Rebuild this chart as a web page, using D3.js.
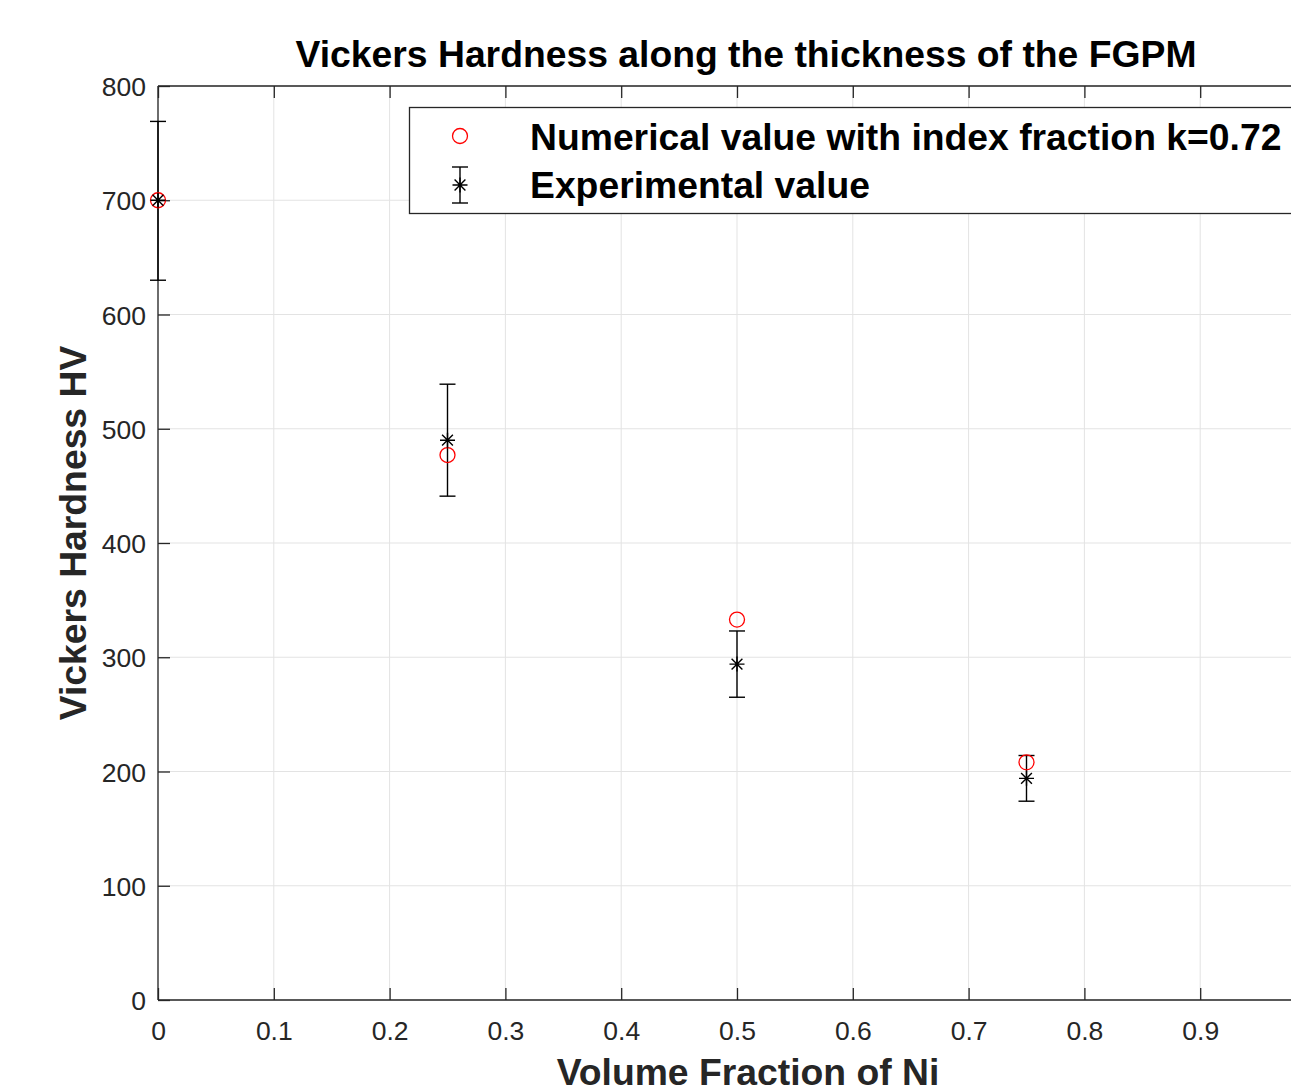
<!DOCTYPE html>
<html><head><meta charset="utf-8">
<script src="https://cdn.jsdelivr.net/npm/d3@7"></script>
<style>body{margin:0;background:#fff;overflow:hidden}svg{display:block}</style>
</head><body>
<svg id="c" width="1291" height="1090"></svg>
<script>
const volumeFraction = [0, 0.25, 0.5, 0.75];
const numericalValues = [700, 477, 333, 208];
const experimentalValues = [700, 490, 294, 194];
const experimentalLower = [630, 441, 265, 174];
const experimentalUpper = [769, 539, 323, 214];
const xTicks = [0, 0.1, 0.2, 0.3, 0.4, 0.5, 0.6, 0.7, 0.8, 0.9, 1];
const yTicks = [0, 100, 200, 300, 400, 500, 600, 700, 800];
const legendLabels = ["Numerical value with index fraction k=0.72", "Experimental value"];

const svg = d3.select("#c");
const L = 158, R = 1316, T = 86, B = 1000;
const x = d3.scaleLinear().domain([0, 1]).range([L, R]);
const y = d3.scaleLinear().domain([0, 800]).range([B, T]);
const axisColor = "#262626", gridColor = "#e3e3e3";
const font = "'Liberation Sans', Arial, Helvetica, sans-serif";
const bigSize = 37.3, tickSize = 26.5;

// grid
svg.append("g").selectAll("line").data(xTicks).join("line")
  .attr("x1", d => x(d)).attr("x2", d => x(d)).attr("y1", T).attr("y2", B)
  .attr("stroke", gridColor).attr("stroke-width", 1);
svg.append("g").selectAll("line").data(yTicks).join("line")
  .attr("x1", L).attr("x2", R).attr("y1", d => y(d)).attr("y2", d => y(d))
  .attr("stroke", gridColor).attr("stroke-width", 1);

// axes
const tickLen = 12;
const xAxis = svg.append("g").attr("transform", `translate(0,${B})`)
  .call(d3.axisBottom(x).tickValues(xTicks.filter(d => d < 1)).tickSize(-tickLen).tickPadding(21).tickFormat(d => d === 0 ? "0" : d3.format(".1f")(d)));
const yAxis = svg.append("g").attr("transform", `translate(${L},0)`)
  .call(d3.axisLeft(y).tickValues(yTicks).tickSize(-tickLen).tickPadding(12));
const xTop = svg.append("g").attr("transform", `translate(0,${T})`)
  .call(d3.axisTop(x).tickValues(xTicks.filter(d => d < 1)).tickSize(-tickLen).tickFormat(""));
[xAxis, yAxis, xTop].forEach(g => {
  g.select(".domain").attr("stroke", axisColor).attr("stroke-width", 1.3);
  g.selectAll(".tick line").attr("stroke", axisColor).attr("stroke-width", 1.3);
  g.selectAll("text").attr("fill", axisColor).attr("font-family", font).attr("font-size", tickSize);
});
xAxis.select(".domain").attr("d", `M${L},0H${R}`);
xTop.select(".domain").attr("d", `M${L},0H${R}`);
yAxis.select(".domain").attr("d", `M0,${B}V${T}`);
yAxis.selectAll("text").attr("dy", "0.36em");

// error bars
const cap = 8;
const eb = svg.append("g").attr("stroke", "#000").attr("stroke-width", 1.4);
volumeFraction.forEach((v, i) => {
  const cx = x(v);
  eb.append("line").attr("x1", cx).attr("x2", cx).attr("y1", y(experimentalLower[i])).attr("y2", y(experimentalUpper[i]));
  eb.append("line").attr("x1", cx - cap).attr("x2", cx + cap).attr("y1", y(experimentalLower[i])).attr("y2", y(experimentalLower[i]));
  eb.append("line").attr("x1", cx - cap).attr("x2", cx + cap).attr("y1", y(experimentalUpper[i])).attr("y2", y(experimentalUpper[i]));
});

function star(g, cx, cy, s) {
  const d = s * 0.72;
  g.append("path").attr("d",
    `M${cx - s},${cy}H${cx + s}M${cx},${cy - s}V${cy + s}M${cx - d},${cy - d}L${cx + d},${cy + d}M${cx - d},${cy + d}L${cx + d},${cy - d}`)
    .attr("stroke", "#000").attr("stroke-width", 1.4).attr("fill", "none");
}

// numerical circles
svg.append("g").selectAll("circle").data(volumeFraction).join("circle")
  .attr("cx", d => x(d)).attr("cy", (d, i) => y(numericalValues[i])).attr("r", 7.5)
  .attr("fill", "none").attr("stroke", "#ff0000").attr("stroke-width", 1.3);

// experimental stars
const sg = svg.append("g");
volumeFraction.forEach((v, i) => star(sg, x(v), y(experimentalValues[i]), 7.5));

// legend
const lg = svg.append("g");
lg.append("rect").attr("x", 409.5).attr("y", 107.5).attr("width", 1000).attr("height", 106)
  .attr("fill", "#fff").attr("stroke", axisColor).attr("stroke-width", 1.3);
lg.append("circle").attr("cx", 460).attr("cy", 136).attr("r", 7.5).attr("fill", "none").attr("stroke", "#ff0000").attr("stroke-width", 1.3);
lg.append("line").attr("x1", 460).attr("x2", 460).attr("y1", 167).attr("y2", 203).attr("stroke", "#000").attr("stroke-width", 1.4);
lg.append("line").attr("x1", 452).attr("x2", 468).attr("y1", 167).attr("y2", 167).attr("stroke", "#000").attr("stroke-width", 1.4);
lg.append("line").attr("x1", 452).attr("x2", 468).attr("y1", 203).attr("y2", 203).attr("stroke", "#000").attr("stroke-width", 1.4);
star(lg, 460, 185, 7.5);
lg.selectAll("text").data(legendLabels).join("text")
  .attr("x", 530).attr("y", (d, i) => 137 + i * 48).attr("dy", "0.36em")
  .attr("font-family", font).attr("font-weight", "bold").attr("font-size", bigSize).attr("fill", "#000")
  .text(d => d);

// title and labels
svg.append("text").attr("x", 746).attr("y", 67).attr("text-anchor", "middle")
  .attr("font-family", font).attr("font-weight", "bold").attr("font-size", bigSize).attr("fill", "#000")
  .text("Vickers Hardness along the thickness of the FGPM");
svg.append("text").attr("x", 748).attr("y", 1085).attr("text-anchor", "middle")
  .attr("font-family", font).attr("font-weight", "bold").attr("font-size", bigSize).attr("fill", axisColor)
  .text("Volume Fraction of Ni");
svg.append("text").attr("transform", "translate(86,533) rotate(-90)").attr("text-anchor", "middle")
  .attr("font-family", font).attr("font-weight", "bold").attr("font-size", bigSize).attr("fill", axisColor)
  .text("Vickers Hardness HV");
</script>
</body></html>
